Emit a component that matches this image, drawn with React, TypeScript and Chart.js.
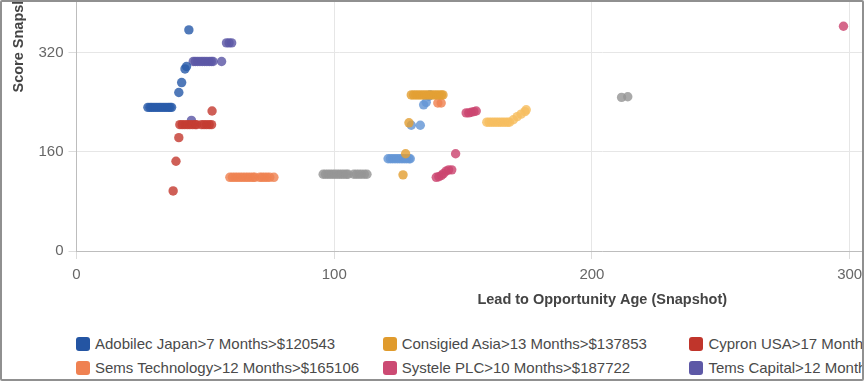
import React, { useEffect, useRef } from "react";
import { Chart, registerables } from "chart.js";
Chart.register(...registerables);

// ---- data ----
const xTickValues = [0, 100, 200, 300, 400];
const yTickValues = [0, 160, 320, 480, 640];
const xAxisTitle = "Lead to Opportunity Age (Snapshot)";
const yAxisTitle = "Score Snapshot";

const legendNames = [
  "Adobilec Japan>7 Months>$120543",
  "Consigied Asia>13 Months>$137853",
  "Cypron USA>17 Months>$142160",
  "Sems Technology>12 Months>$165106",
  "Systele PLC>10 Months>$187722",
  "Tems Capital>12 Months>$192410",
];
const legendColors = ["#2455a3", "#e09b2d", "#c0352b", "#ef8152", "#cc4a73", "#5d58a6"];

const adobilecJapan = [
  [27.7, 232], [28.5, 232], [29.2, 232], [30, 232], [30.8, 232], [31.6, 232], [32.4, 232],
  [33.2, 232], [34, 232], [34.8, 232], [35.6, 232], [36.3, 232], [36.9, 232],
  [39.7, 256], [40.8, 272], [42.1, 294], [42.7, 298], [43.6, 357],
];
const consigiedAsia = [
  [129.9, 252], [130.8, 252], [131.7, 252], [132.6, 252], [133.5, 252], [134.4, 252],
  [135.3, 252], [136.2, 252], [137.1, 252], [138, 252], [138.9, 252], [139.8, 252],
  [140.7, 252], [141.6, 252], [142.2, 252],
  [129, 207], [127.7, 157], [126.7, 123],
];
const cypronUSA = [
  [40.1, 204], [41, 204], [42, 204], [43, 204], [44, 204], [45, 204], [46, 204], [46.6, 204],
  [48.5, 204], [49.5, 204], [50.5, 204], [51.5, 204], [52.4, 204],
  [52.6, 226], [39.7, 183], [38.6, 145], [37.5, 97],
];
const semsTechnology = [
  [59.5, 119], [60.5, 119], [61.5, 119], [62.5, 119], [63.5, 119], [64.5, 119], [65.5, 119],
  [66.5, 119], [67.5, 119], [68.5, 119], [69.2, 119],
  [71.1, 119], [72, 119], [73, 119], [74, 119], [75, 119], [76.6, 119],
  [140.2, 239], [141.5, 239],
];
const systelePLC = [
  [151.2, 223], [152.2, 223], [153.2, 224], [154.2, 225], [155.1, 226],
  [147.1, 157],
  [139.6, 119], [140.6, 120], [141.6, 122], [142.4, 125], [143.4, 129], [144.4, 131], [145.6, 131],
  [297.6, 363],
];
const temsCapital = [
  [45.3, 306], [46.1, 306], [47, 306], [47.9, 306], [48.8, 306], [49.7, 306], [50.6, 306],
  [51.5, 306], [52.3, 306], [53, 306], [56.3, 306],
  [58.2, 336], [59.2, 336], [60.2, 336],
  [44.6, 211],
];
const otherGray = [
  [95.7, 124], [96.6, 124], [97.5, 124], [98.4, 124], [99.3, 124], [100.2, 124], [101.1, 124],
  [102, 124], [102.9, 124], [103.8, 124], [104.7, 124], [105.4, 124],
  [107.6, 124], [108.6, 124], [109.6, 124], [110.6, 124], [111.7, 124], [112.7, 124],
  [211.5, 248], [213.9, 249],
];
const otherLightBlue = [
  [120.9, 149], [121.8, 149], [122.7, 149], [123.6, 149], [124.5, 149], [125.4, 149],
  [126.3, 149], [127.2, 149], [128.1, 149], [129, 149], [129.5, 149],
  [129.9, 203], [133.4, 203], [134.7, 236], [135.7, 240], [136.7, 250], [137.2, 252],
];
const otherLightOrange = [
  [159.2, 208], [160.1, 208], [161, 208], [161.9, 208], [162.8, 208], [163.7, 208],
  [164.6, 208], [165.5, 208], [166.4, 208], [167.3, 208], [168, 208],
  [169.5, 212], [171, 217], [172.5, 221], [174, 225], [174.5, 228],
];

const seriesData = [adobilecJapan, consigiedAsia, cypronUSA, semsTechnology, systelePLC, temsCapital, otherGray, otherLightBlue, otherLightOrange];
const seriesLabels = [...legendNames, "Other A", "Other B", "Other C"];
const pointColors = [
  "rgba(42,92,170,0.82)",
  "rgba(227,160,52,0.82)",
  "rgba(196,60,50,0.82)",
  "rgba(239,130,82,0.82)",
  "rgba(204,70,112,0.82)",
  "rgba(93,88,166,0.82)",
  "rgba(150,150,150,0.82)",
  "rgba(100,150,214,0.82)",
  "rgba(246,190,96,0.82)",
];

const FONT = "'Liberation Sans', Arial, Helvetica, sans-serif";
const TOP_OFFSET = 181;

export default function App() {
  const ref = useRef<HTMLCanvasElement | null>(null);

  useEffect(() => {
    if (!ref.current) return;
    const chart = new Chart(ref.current, {
      type: "scatter",
      data: {
        datasets: seriesData.map((pts, i) => ({
          label: seriesLabels[i],
          data: pts.map(([x, y]) => ({ x, y })),
          backgroundColor: pointColors[i],
          borderWidth: 0,
          pointRadius: 4.7,
          pointHoverRadius: 4.7,
        })),
      },
      options: {
        responsive: false,
        animation: false,
        events: [],
        layout: { padding: { left: 6, right: 12, top: 0, bottom: 0 } },
        plugins: { legend: { display: false }, tooltip: { enabled: false } },
        scales: {
          x: {
            type: "linear",
            min: 0,
            max: 408,
            afterBuildTicks: (s: any) => {
              s.ticks = xTickValues.map((v) => ({ value: v }));
            },
            afterFit: (s: any) => {
              s.height = 58;
              s.paddingLeft = 0;
              s.paddingRight = 0;
            },
            ticks: {
              autoSkip: false,
              maxRotation: 0,
              padding: 7,
              color: "#666",
              font: { family: FONT, size: 15 },
            },
            grid: { color: "#e6e6e6", tickColor: "#dcdcdc", tickLength: 8 },
            border: { color: "#bdbdbd", width: 1 },
            title: {
              display: true,
              text: xAxisTitle,
              color: "#444",
              font: { family: FONT, size: 14.5, weight: "bold" },
              padding: { top: 0, bottom: 0 },
            },
          },
          y: {
            type: "linear",
            min: 0,
            max: 690,
            afterBuildTicks: (s: any) => {
              s.ticks = yTickValues.map((v) => ({ value: v }));
            },
            afterFit: (s: any) => {
              s.width = 70.5;
              s.paddingTop = 0;
              s.paddingBottom = 0;
            },
            ticks: {
              autoSkip: false,
              padding: 5,
              color: "#666",
              font: { family: FONT, size: 15 },
            },
            grid: { color: "#e6e6e6", tickColor: "#dcdcdc", tickLength: 8 },
            border: { color: "#bdbdbd", width: 1 },
            title: {
              display: true,
              text: yAxisTitle,
              color: "#444",
              font: { family: FONT, size: 14.5, weight: "bold" },
              padding: { top: 4, bottom: 0 },
            },
          },
        },
      },
    });
    return () => chart.destroy();
  }, []);

  return (
    <div style={{ position: "fixed", left: 0, top: 0, width: 864, height: 382, background: "#fff" }}>
      <div style={{ position: "absolute", left: 0, top: 0, width: 863, height: 381, overflow: "hidden" }}>
        <canvas
          ref={ref}
          width={1140}
          height={490}
          style={{ position: "absolute", left: 0, top: -TOP_OFFSET, width: 1140, height: 490 }}
        />
        {legendNames.map((name, i) => {
          const col = i % 3;
          const row = Math.floor(i / 3);
          return (
            <div
              key={name}
              style={{
                position: "absolute",
                left: 76 + col * 306.7,
                top: 336 + row * 24,
                height: 15,
                display: "flex",
                alignItems: "center",
                whiteSpace: "nowrap",
                fontFamily: FONT,
                fontSize: 15,
                color: "#4a4a4a",
              }}
            >
              <span
                style={{
                  display: "inline-block",
                  width: 14,
                  height: 14,
                  borderRadius: 3,
                  background: legendColors[i],
                  marginRight: 5,
                }}
              />
              <span>{name}</span>
            </div>
          );
        })}
      </div>
      <div
        style={{
          position: "absolute",
          left: 0,
          top: 0,
          width: 864,
          height: 381,
          boxSizing: "border-box",
          border: "2px solid #909090",
          borderRadius: 2,
          pointerEvents: "none",
        }}
      />
    </div>
  );
}
